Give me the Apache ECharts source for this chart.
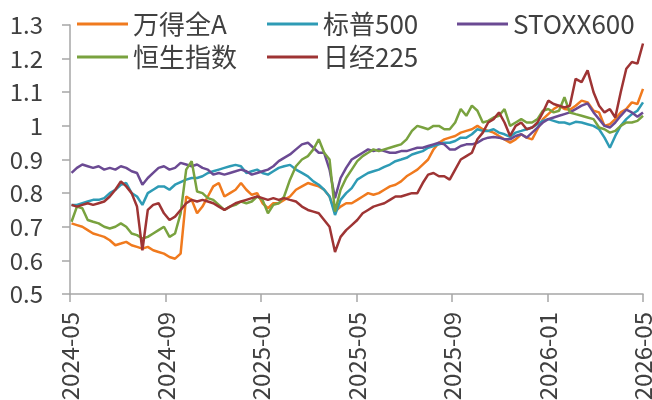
<!DOCTYPE html>
<html>
<head>
<meta charset="utf-8">
<script src="https://cdn.jsdelivr.net/npm/echarts@6/dist/echarts.min.js"></script>
<style>
  html, body { margin: 0; padding: 0; background: #fff; }
  #chart { width: 652px; height: 400px; }
</style>
</head>
<body>
<div id="chart"></div>
<script>
// 周度日期（2024-05-03 起每周五，共105周）
const dates = [];
for (let k = 0; k < 105; k++) {
  const d = new Date(Date.UTC(2024, 4, 3 + 7 * k));
  dates.push(d.toISOString().slice(0, 10));
}
const xTickLabels = ['2024-05', '2024-09', '2025-01', '2025-05', '2025-09', '2026-01', '2026-05'];
const seriesNames = ['万得全A', '标普500', 'STOXX600', '恒生指数', '日经225'];
const seriesColors = ['#F07A1E', '#2E9BB5', '#6B4A93', '#79A23F', '#9E3434'];

const windA = [
  0.71, 0.705, 0.70, 0.69, 0.68, 0.675, 0.67, 0.66, 0.645, 0.65,
  0.655, 0.645, 0.64, 0.635, 0.64, 0.63, 0.625, 0.62, 0.61, 0.605,
  0.62, 0.79, 0.78, 0.74, 0.76, 0.79, 0.82, 0.83, 0.79, 0.80,
  0.81, 0.83, 0.81, 0.795, 0.80, 0.77, 0.755, 0.77, 0.77, 0.78,
  0.79, 0.81, 0.82, 0.83, 0.825, 0.82, 0.81, 0.79, 0.745, 0.76,
  0.77, 0.77, 0.78, 0.79, 0.80, 0.795, 0.80, 0.81, 0.82, 0.825,
  0.835, 0.85, 0.86, 0.87, 0.885, 0.90, 0.93, 0.95, 0.96, 0.965,
  0.97, 0.98, 0.985, 0.99, 1.0, 0.99, 0.985, 0.98, 0.97, 0.96,
  0.95, 0.96, 0.975, 0.965, 0.96, 0.99, 1.02, 1.035, 1.05, 1.06,
  1.05, 1.048, 1.06, 1.075, 1.07, 1.045, 1.04, 1.0, 1.005, 1.02,
  1.04, 1.05, 1.07, 1.065, 1.11
];
const sp500 = [
  0.765, 0.765, 0.77, 0.775, 0.78, 0.78, 0.785, 0.80, 0.81, 0.825,
  0.83, 0.80, 0.79, 0.765, 0.80, 0.81, 0.82, 0.82, 0.81, 0.825,
  0.833, 0.84, 0.845, 0.845, 0.85, 0.86, 0.865, 0.87, 0.875, 0.88,
  0.884, 0.88, 0.86, 0.865, 0.87, 0.86, 0.855, 0.865, 0.875, 0.88,
  0.884, 0.87, 0.86, 0.85, 0.835, 0.825, 0.81, 0.79, 0.735, 0.78,
  0.80, 0.815, 0.84, 0.85, 0.86, 0.865, 0.87, 0.878, 0.885, 0.895,
  0.90, 0.905, 0.915, 0.92, 0.925, 0.935, 0.94, 0.945, 0.95, 0.95,
  0.955, 0.965, 0.965, 0.975, 0.99, 0.985, 0.985, 0.99, 0.98, 0.975,
  0.967, 0.98, 0.985, 0.99, 0.995, 1.005, 1.015, 1.02, 1.015, 1.01,
  1.01, 1.005, 1.012, 1.01, 1.005, 1.0, 0.99, 0.965, 0.935, 0.97,
  1.0, 1.02, 1.035, 1.045, 1.07
];
const stoxx600 = [
  0.86, 0.875, 0.885, 0.88, 0.875, 0.88, 0.87, 0.875, 0.87, 0.88,
  0.875, 0.865, 0.86, 0.825, 0.845, 0.86, 0.875, 0.88, 0.87, 0.875,
  0.89, 0.885, 0.88, 0.885, 0.875, 0.87, 0.855, 0.86, 0.855, 0.86,
  0.865, 0.87, 0.865, 0.855, 0.86, 0.865, 0.87, 0.88, 0.895, 0.905,
  0.915, 0.93, 0.945, 0.95, 0.935, 0.92, 0.92, 0.87, 0.785, 0.845,
  0.875, 0.90, 0.91, 0.92, 0.93, 0.925, 0.93, 0.925, 0.92, 0.92,
  0.925, 0.925, 0.93, 0.935, 0.935, 0.94, 0.945, 0.95, 0.945, 0.93,
  0.93, 0.94, 0.945, 0.945, 0.95, 0.96, 0.965, 0.967, 0.965, 0.96,
  0.96, 0.97, 0.975, 0.965, 0.98, 0.995, 1.01, 1.02, 1.025, 1.03,
  1.035, 1.04, 1.05, 1.06, 1.067, 1.04, 1.02, 1.0, 0.995, 1.01,
  1.03, 1.048, 1.04, 1.027, 1.04
];
const hangSeng = [
  0.715, 0.76, 0.755, 0.72, 0.715, 0.71, 0.70, 0.695, 0.70, 0.71,
  0.70, 0.68, 0.675, 0.665, 0.67, 0.68, 0.69, 0.70, 0.67, 0.68,
  0.74, 0.87, 0.895, 0.805, 0.80, 0.785, 0.78, 0.765, 0.75, 0.76,
  0.765, 0.775, 0.77, 0.775, 0.79, 0.78, 0.74, 0.765, 0.77, 0.79,
  0.84, 0.88, 0.90, 0.91, 0.93, 0.96, 0.92, 0.90, 0.745, 0.81,
  0.845, 0.87, 0.895, 0.91, 0.92, 0.93, 0.925, 0.93, 0.935, 0.94,
  0.945, 0.96, 0.985, 1.0, 0.995, 0.99, 1.0, 1.0, 0.99, 0.99,
  1.01, 1.05, 1.03, 1.06, 1.045, 1.01, 1.015, 1.025, 1.03, 1.05,
  1.0, 1.01, 1.02, 1.01, 1.01, 1.02, 1.045, 1.05, 1.04, 1.045,
  1.085, 1.04, 1.035, 1.03, 1.025, 1.02, 0.995, 0.99, 0.98, 0.985,
  1.0, 1.01, 1.01, 1.015, 1.03
];
const nikkei225 = [
  0.765, 0.76, 0.765, 0.77, 0.765, 0.77, 0.775, 0.79, 0.81, 0.835,
  0.82, 0.80, 0.76, 0.63, 0.75, 0.765, 0.77, 0.74, 0.72, 0.73,
  0.75, 0.77, 0.78, 0.775, 0.78, 0.775, 0.77, 0.76, 0.75, 0.76,
  0.77, 0.775, 0.78, 0.785, 0.79, 0.785, 0.78, 0.785, 0.78, 0.785,
  0.78, 0.775, 0.76, 0.75, 0.745, 0.74, 0.72, 0.70, 0.625, 0.67,
  0.69, 0.705, 0.72, 0.74, 0.75, 0.76, 0.765, 0.77, 0.78, 0.79,
  0.79, 0.795, 0.80, 0.80, 0.83, 0.855, 0.86, 0.85, 0.85, 0.84,
  0.87, 0.90, 0.91, 0.92, 0.96, 0.98, 1.01, 1.02, 1.04, 1.01,
  0.97, 1.0, 1.01, 0.99, 0.995, 1.01, 1.04, 1.075, 1.065, 1.06,
  1.055, 1.06, 1.14, 1.13, 1.165, 1.10, 1.06, 1.04, 1.05, 1.025,
  1.10, 1.17, 1.19, 1.185, 1.245
];
const seriesValues = [windA, sp500, stoxx600, hangSeng, nikkei225];

// 日期 -> 自2024-05起的月份数（带小数）
function monthIndex(s) {
  const y = +s.slice(0, 4), m = +s.slice(5, 7), d = +s.slice(8, 10);
  const dim = new Date(Date.UTC(y, m, 0)).getUTCDate();
  return (y - 2024) * 12 + (m - 5) + (d - 1) / dim;
}

const FONT = '"Noto Sans CJK SC", "Noto Sans", sans-serif';
const TEXT_COLOR = '#404040';
const AXIS_COLOR = '#A6A6A6';

// 图例位置（每个图例单独放置）
const legendPos = [
  {left: 77, top: 9}, {left: 267, top: 9}, {left: 457, top: 9},
  {left: 77, top: 42}, {left: 267, top: 42}
];

const chart = echarts.init(document.getElementById('chart'));
const option = {
  animation: false,
  color: seriesColors,
  grid: {left: 70, right: 9, top: 25, bottom: 106, containLabel: false, outerBoundsMode: 'none'},
  legend: seriesNames.map((name, i) => ({
    data: [name],
    left: legendPos[i].left,
    top: legendPos[i].top,
    padding: 0,
    icon: 'rect',
    itemWidth: 51,
    itemHeight: 3,
    textStyle: {fontSize: 26, color: TEXT_COLOR, fontFamily: FONT, lineHeight: 30}
  })),
  xAxis: {
    type: 'value',
    min: 0,
    max: 24,
    interval: 4,
    splitLine: {show: false},
    axisLine: {show: true, lineStyle: {color: AXIS_COLOR, width: 1.5}},
    axisTick: {show: true, length: 8, lineStyle: {color: AXIS_COLOR, width: 1.5}},
    axisLabel: {
      rotate: 90,
      margin: 18,
      fontSize: 24,
      color: TEXT_COLOR,
      fontFamily: FONT,
      formatter: v => xTickLabels[Math.round(v / 4)]
    }
  },
  yAxis: {
    type: 'value',
    min: 0.5,
    max: 1.3,
    interval: 0.1,
    splitLine: {show: false},
    axisLine: {show: true, lineStyle: {color: AXIS_COLOR, width: 1.5}},
    axisTick: {show: true, length: 8, lineStyle: {color: AXIS_COLOR, width: 1.5}},
    axisLabel: {
      margin: 27,
      fontSize: 24,
      color: TEXT_COLOR,
      fontFamily: FONT,
      formatter: v => String(parseFloat(v.toFixed(1)))
    }
  },
  series: seriesNames.map((name, i) => ({
    name: name,
    type: 'line',
    symbol: 'none',
    lineStyle: {width: 2.5},
    data: dates.map((d, k) => [monthIndex(d), seriesValues[i][k]])
  }))
};
chart.setOption(option);
</script>
</body>
</html>
